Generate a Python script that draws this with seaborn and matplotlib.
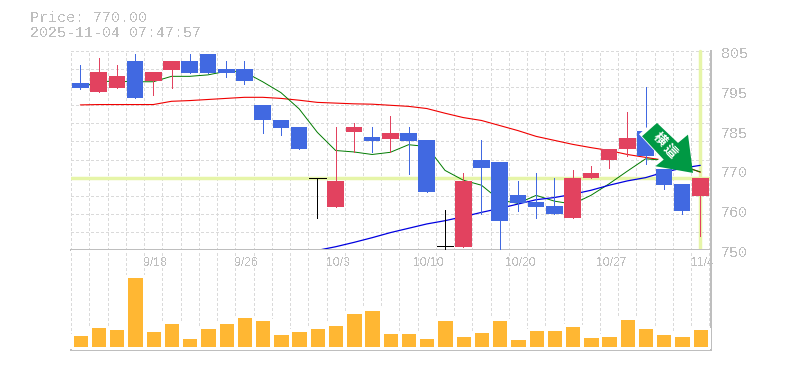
import numpy as np
import pandas as pd
import matplotlib
matplotlib.use('Agg')
import matplotlib.pyplot as plt
from matplotlib.patches import Polygon
from matplotlib.transforms import IdentityTransform
import seaborn as sns

sns.set_style('white')
plt.rcParams['font.family'] = ['Noto Sans CJK JP', 'DejaVu Sans']
plt.rcParams['lines.antialiased'] = False
plt.rcParams['patch.antialiased'] = False
plt.rcParams['text.antialiased'] = False

opens = [796.2, 793.8, 794.8, 802.3, 796.8, 799.8, 802.3, 804.2, 800, 800, 790.2, 786, 784.1, 770, 761.8,
         782.7, 781.1, 780.8, 782.2, 780.3, 751, 750.8, 775, 774.2, 765.1, 763.2, 762.1, 758.8, 769.8,
         774.8, 777.8, 783, 772.3, 768.2, 764.9]
closes = [794.8, 799.2, 798.1, 791.9, 799.2, 802.3, 799, 799, 799, 796.8, 785.8, 783.8, 777.8, 770, 769.2,
          784.1, 780, 782.2, 780, 766, 751, 769.2, 772.8, 758, 762.9, 761.8, 759.9, 770, 771.2,
          778, 781, 775.9, 767.9, 760.7, 770]
highs = [801.2, 803, 801.2, 804.2, 799.2, 802.3, 804.2, 804.2, 802.3, 802.3, 790.2, 786, 784.1, 770, 784.1,
         785.2, 784.1, 787.1, 784.1, 780.3, 761, 771.2, 780.3, 774.2, 769.2, 771.2, 770, 772, 773.1,
         778, 788.2, 795.1, 772.3, 768.2, 770]
lows = [794.5, 793.8, 794.8, 791.9, 792.9, 794.8, 799, 799, 797.9, 795.9, 782.2, 781.9, 777.8, 758.9, 761.8,
        777, 777, 777, 770.9, 766, 750, 750.8, 759.9, 750, 760.7, 758.8, 759.9, 758.8, 769.8,
        772.8, 776.1, 773.9, 766.8, 759.9, 753.9]
ma_short = [794.8, 796.6, 796.6, 796.5, 796.5, 798, 798, 798.4, 799.4, 799.2, 796.5, 793.5, 789, 782.5, 777.5,
            777.1, 776.4, 777, 779.1, 778.6, 772, 769.3, 767.9, 763.8, 762.9, 765.1, 763.5, 762.7, 765.1,
            768.3, 771.8, 775.2, 774.8, 773.1, 771.6]
ma_mid = [790.1, 790.2, 790.2, 790.2, 790.2, 791.1, 791.3, 791.6, 791.9, 792.2, 792.2, 791.9, 791.4, 790.8, 790.6,
          790.4, 790.3, 790, 789.7, 789.1, 787.8, 786.6, 785.8, 784.4, 783, 781.4, 780.3, 779.2, 778.3,
          777.5, 776.4, 775.6, 774.8, 773.4, 771.5]
ma_long = [749.9, 750.9, 752.1, 753.4, 754.8, 756, 757.2, 758.1, 759.2, 760.4, 761.5, 762.7, 763.9, 764.5, 765.4,
           766.5, 767.9, 769.1, 770, 771.5, 772.6, 773.4]
volume = [14, 22, 20, 71, 18, 26, 11, 21, 26, 32, 29, 15, 18, 21, 24, 36, 39, 16,
          16, 11, 29, 13, 17, 29, 10, 19, 19, 23, 12, 13, 30, 21, 15, 13, 20]
date_pos = [4, 9, 14, 19, 24, 29, 34]
date_labels = ['9/18', '9/26', '10/3', '10/10', '10/20', '10/27', '11/4']
price_ticks = [750, 761, 772, 783, 794, 805]
price_labels = ['750', '760', '770', '785', '795', '805']
price = 770.0
title_lines = ['Price: 770.00', '2025-11-04 07:47:57']
signal_chars = ['横', '這']

UP = '#E2425F'
DOWN = '#4169E1'
GREY = '#BEBEBE'
GRIDC = '#DADADA'
LIME = '#E6F5A8'
DASH = (0, (3, 3))

df = pd.DataFrame({'i': range(len(volume)), 'open': opens, 'close': closes, 'high': highs, 'low': lows,
                   'short': ma_short, 'mid': ma_mid, 'volume': volume})

W, H = 785, 370
fig = plt.figure(figsize=(W / 100, H / 100), dpi=100)
L, R = 70.5, 710.5
ax = fig.add_axes([L / W, 1 - 250 / H, (R - L) / W, 199 / H])
axv = fig.add_axes([L / W, 1 - 350 / H, (R - L) / W, 100 / H])

xlim = (-0.54, 34.56)
ax.set_xlim(xlim)
ax.set_ylim(750, 805)
ax.set_axisbelow(True)

ax.axhline(price, color=LIME, lw=2.5, zorder=1.5, antialiased=True)
ax.plot([34, 34], [749.5, 805], color=LIME, lw=2.5, zorder=1.5, clip_on=False, antialiased=True)

sns.lineplot(x=df['i'], y=df['mid'], ax=ax, color='#F00000', lw=0.8, zorder=2, errorbar=None, antialiased=True)
sns.lineplot(x=df['i'], y=df['short'], ax=ax, color='#007A00', lw=0.7, zorder=2, errorbar=None, antialiased=True)
sns.lineplot(x=df['i'].to_numpy()[13:], y=ma_long, ax=ax, color='#0000E0', lw=0.9, zorder=2, errorbar=None,
             antialiased=True)

body_w = 16.6 / 18.235
for row in df.itertuples():
    if row.open == row.close:
        ax.vlines(row.i, row.low, row.high, color='black', lw=0.6, zorder=3)
        ax.hlines(row.close, row.i - body_w / 2, row.i + body_w / 2, color='black', lw=0.6, zorder=3)
        continue
    c = UP if row.close > row.open else DOWN
    ax.vlines(row.i, row.low, row.high, color=c, lw=0.6, zorder=3)
    ax.bar(row.i, abs(row.close - row.open), bottom=min(row.open, row.close), width=body_w, color=c, lw=0, zorder=4)

sns.barplot(x=df['i'], y=df['volume'], ax=axv, color='#FFB733', width=0.95, saturation=1,
            native_scale=True, zorder=3)
axv.set_xlim(xlim)
axv.set_ylim(-2, 97)
axv.set_axisbelow(True)

for a in (ax, axv):
    a.set_xlabel('')
    a.set_ylabel('')
    a.set_xticks([])
    a.set_yticks([])
    a.set_xticks(np.arange(0, 36) - 0.5, minor=True)
    a.grid(True, which='minor', axis='x', color=GRIDC, lw=0.6, ls=DASH)
    a.tick_params(which='both', length=0)
    for s in a.spines.values():
        s.set_visible(False)
    for side in ('bottom', 'right'):
        a.spines[side].set_visible(True)
        a.spines[side].set_color(GREY)
        a.spines[side].set_linewidth(1.2)

ax.set_yticks(np.arange(750, 806, 5), minor=True)
ax.grid(True, which='minor', axis='y', color=GRIDC, lw=0.6, ls=DASH)

for p, t in zip(date_pos, date_labels):
    axv.annotate(t, (p, 97), xytext=(2, -13), textcoords='offset pixels', ha='center', va='center',
                 color=GREY, fontsize=8.7, family='Liberation Sans')

for v, t in zip(price_ticks, price_labels):
    ax.annotate(t, (xlim[1], v), xytext=(10, -3), textcoords='offset pixels', ha='left', va='center',
                color=GREY, fontsize=10.8, family='Liberation Mono', annotation_clip=False)

for n, t in enumerate(title_lines):
    fig.text(30 / W, 1 - (18 + 15 * n) / H, t, color=GREY, fontsize=10.8, family='Liberation Mono',
             ha='left', va='center')

# signal arrow, placed relative to the last candle
fig.canvas.draw()
tip = ax.transData.transform((33.6, 771.3))
arrow = np.array([[0, 0], [-5, 38.3], [-15, 30], [-36, 50], [-51, 36.7], [-29.3, 13.3], [-37.6, 6.7]])
fig.add_artist(Polygon(tip + arrow + [-3, 2], closed=True, transform=IdentityTransform(), fc='white', ec='none',
                       antialiased=True, zorder=5))
fig.add_artist(Polygon(tip + arrow, closed=True, transform=IdentityTransform(), fc='#009944', ec='none',
                       antialiased=True, zorder=6))
for ch, off in zip(signal_chars, [(-33.5, 33.5), (-22.5, 21.5)]):
    t = fig.text((tip[0] + off[0]) / W, (tip[1] + off[1]) / H, ch, color='white', fontsize=9.5, fontweight='bold',
                 rotation=-45, ha='center', va='center', rotation_mode='anchor', zorder=7)
    t.set_antialiased(True)

fig.savefig('out.png', dpi=100)
